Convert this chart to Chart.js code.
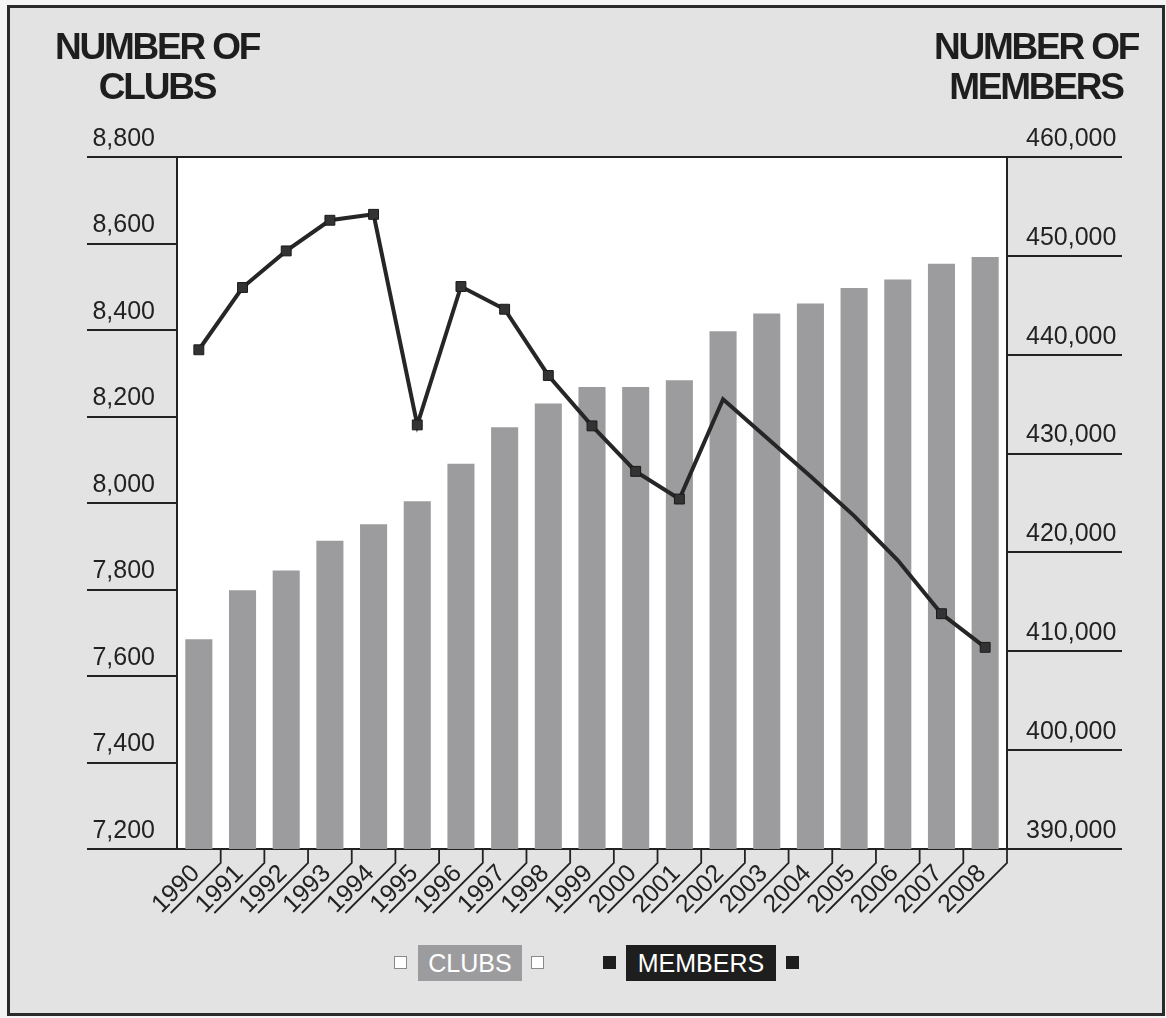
<!DOCTYPE html>
<html>
<head>
<meta charset="utf-8">
<title>Clubs and Members</title>
<script src="https://cdn.jsdelivr.net/npm/chart.js@4.4.1/dist/chart.umd.min.js"></script>
<style>
  html, body { margin: 0; padding: 0; background: #f4f4f4; }
  body { width: 1166px; height: 1018px; position: relative; overflow: hidden; font-family: 'Liberation Sans', Arial, sans-serif; }
  .frame { position: absolute; left: 7px; top: 5px; width: 1152px; height: 1005px; border: 3px solid #2a2a2a; background: #e3e3e3; }
  #chart { position: absolute; left: 0; top: 0; }
  .title { position: absolute; width: 220px; text-align: center; font-weight: bold; font-size: 37px; line-height: 40px; letter-spacing: -2.2px; color: #1e1e1e; }
  .legend-sq { position: absolute; top: 956px; width: 11px; height: 11px; border: 1px solid #8a8a8a; background: #fff; }
  .legend-sq.dark { background: #1e1e1e; border-color: #1e1e1e; }
  .legend-box { position: absolute; top: 945px; height: 36px; line-height: 37px; text-align: center; color: #fff; font-size: 25px; }
</style>
</head>
<body>
<div class="frame"></div>
<canvas id="chart" width="1166" height="1018"></canvas>
<div class="title" style="left:47px; top:27px;">NUMBER OF<br>CLUBS</div>
<div class="title" style="left:926px; top:27px;">NUMBER OF<br>MEMBERS</div>

<div class="legend-sq" style="left:394px;"></div>
<div class="legend-box" style="left:418px; width:104px; background:#9c9c9e;">CLUBS</div>
<div class="legend-sq" style="left:531px;"></div>
<div class="legend-sq dark" style="left:603px;"></div>
<div class="legend-box" style="left:626px; width:150px; background:#1e1e1e;">MEMBERS</div>
<div class="legend-sq dark" style="left:786px;"></div>

<script>
const years = ['1990', '1991', '1992', '1993', '1994', '1995', '1996', '1997', '1998', '1999',
  '2000', '2001', '2002', '2003', '2004', '2005', '2006', '2007', '2008'];

// number of clubs (left axis)
const clubs = [7685, 7798, 7844, 7913, 7951, 8004, 8091, 8175, 8230, 8268,
  8268, 8284, 8397, 8438, 8461, 8497, 8517, 8553, 8569];

// number of members (right axis)
const members = [440500, 446800, 450500, 453600, 454200, 432900, 446900, 444600, 437900, 432800,
  428200, 425400, 435500, 431600, 427700, 423700, 419200, 413800, 410400];

// the source shows no marker on 2002-2006
const markerShown = [1, 1, 1, 1, 1, 1, 1, 1, 1, 1, 1, 1, 0, 0, 0, 0, 0, 1, 1];

const clubTicks = { min: 7200, max: 8800, step: 200 };
const memberTicks = { min: 390000, max: 460000, step: 10000 };

const ink = '#222222';
const fmt = (v) => Number(v).toLocaleString('en-US');

// white plot area, outer tick lines and the slanted label rules
const framePlugin = {
  id: 'framePlugin',
  beforeDraw(chart) {
    const { ctx, chartArea } = chart;
    ctx.save();
    ctx.fillStyle = '#ffffff';
    ctx.fillRect(chartArea.left, chartArea.top, chartArea.right - chartArea.left, chartArea.bottom - chartArea.top);
    ctx.restore();
  },
  afterDraw(chart) {
    const { ctx, chartArea, scales } = chart;
    ctx.save();
    ctx.strokeStyle = ink;
    ctx.lineWidth = 2;
    ctx.beginPath();
    scales.y.ticks.forEach(t => {
      const py = Math.round(scales.y.getPixelForValue(t.value));
      ctx.moveTo(chartArea.left - 90, py);
      ctx.lineTo(chartArea.left, py);
    });
    scales.y1.ticks.forEach(t => {
      const py = Math.round(scales.y1.getPixelForValue(t.value));
      ctx.moveTo(chartArea.right, py);
      ctx.lineTo(chartArea.right + 115, py);
    });
    ctx.moveTo(chartArea.left, chartArea.top);
    ctx.lineTo(chartArea.right, chartArea.top);
    ctx.stroke();

    ctx.lineWidth = 1.8;
    ctx.beginPath();
    const n = years.length;
    for (let i = 0; i < n; i++) {
      const bx = i < n - 1
        ? (scales.x.getPixelForValue(i) + scales.x.getPixelForValue(i + 1)) / 2
        : chartArea.right;
      ctx.moveTo(bx, chartArea.bottom);
      ctx.lineTo(bx, chartArea.bottom + 14);
      ctx.lineTo(bx - 50, chartArea.bottom + 64);
    }
    ctx.stroke();
    ctx.restore();
  }
};

new Chart(document.getElementById('chart'), {
  data: {
    labels: years,
    datasets: [
      {
        type: 'line',
        label: 'MEMBERS',
        data: members,
        yAxisID: 'y1',
        order: 0,
        borderColor: '#262626',
        borderWidth: 4,
        tension: 0,
        pointStyle: 'rect',
        pointRadius: markerShown.map(m => m ? 7 : 0),
        pointBackgroundColor: '#333333',
        pointBorderColor: '#1a1a1a',
        pointBorderWidth: 1
      },
      {
        type: 'bar',
        label: 'CLUBS',
        data: clubs,
        yAxisID: 'y',
        order: 1,
        backgroundColor: '#9c9c9e',
        barPercentage: 0.62,
        categoryPercentage: 1.0
      }
    ]
  },
  options: {
    responsive: false,
    animation: false,
    layout: { padding: { top: 157, left: 0, right: 0, bottom: 0 } },
    plugins: { legend: { display: false }, tooltip: { enabled: false } },
    scales: {
      x: {
        type: 'category',
        offset: true,
        grid: { display: false },
        border: { display: true, color: ink, width: 2 },
        ticks: {
          autoSkip: false,
          minRotation: 45,
          maxRotation: 45,
          padding: 2,
          labelOffset: -3,
          color: ink,
          font: { family: "'Liberation Sans', Arial, sans-serif", size: 25 }
        },
        afterFit(scale) { scale.height = 169; }
      },
      y: {
        position: 'left',
        min: clubTicks.min,
        max: clubTicks.max,
        grid: { display: false },
        border: { display: true, color: ink, width: 2 },
        ticks: {
          stepSize: clubTicks.step,
          padding: 14,
          labelOffset: -18,
          color: ink,
          font: { family: "'Liberation Sans', Arial, sans-serif", size: 25 },
          callback: fmt
        },
        afterFit(scale) { scale.width = 177; }
      },
      y1: {
        position: 'right',
        min: memberTicks.min,
        max: memberTicks.max,
        grid: { display: false },
        border: { display: true, color: ink, width: 2 },
        ticks: {
          stepSize: memberTicks.step,
          padding: 11,
          labelOffset: -18,
          color: ink,
          font: { family: "'Liberation Sans', Arial, sans-serif", size: 25 },
          callback: fmt
        },
        afterFit(scale) { scale.width = 159; }
      }
    }
  },
  plugins: [framePlugin]
});
</script>
</body>
</html>
